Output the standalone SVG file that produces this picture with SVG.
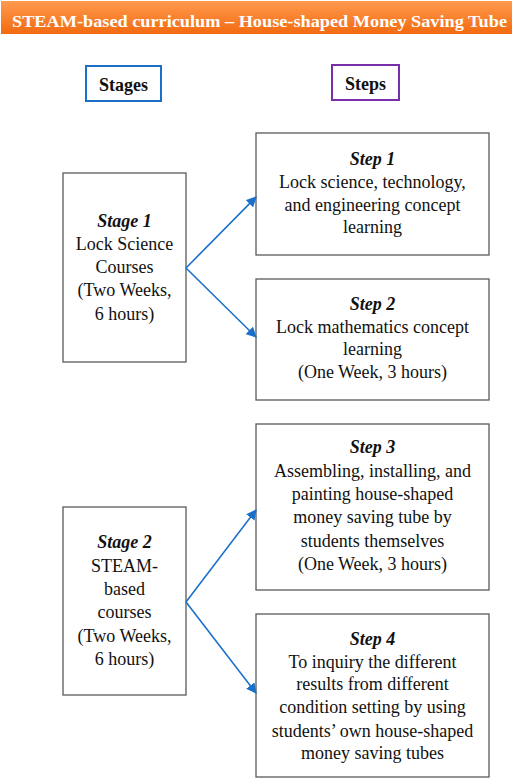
<svg xmlns="http://www.w3.org/2000/svg" width="526" height="782" viewBox="0 0 526 782">
<style>
.box{fill:#fff;stroke:#5a5a5a;stroke-width:1.3}
text{font-family:"Liberation Serif","Times New Roman",serif;font-size:18px;fill:#111;text-anchor:middle}
.b{font-weight:bold}
.bi{font-weight:bold;font-style:italic}
.conn{stroke:#1a6fc9;stroke-width:1.6;fill:none;marker-end:url(#ah)}
</style>
<defs>
<linearGradient id="og" x1="0" y1="0" x2="0" y2="1">
<stop offset="0" stop-color="#ff9a4e"/>
<stop offset="1" stop-color="#f26a10"/>
</linearGradient>
<marker id="ah" viewBox="0 0 10 10" refX="9" refY="5" markerWidth="6.5" markerHeight="6.5" orient="auto" markerUnits="strokeWidth">
<path d="M0,0 L10,5 L0,10 z" fill="#1a6fc9"/>
</marker>
</defs>
<rect width="526" height="782" fill="#fff"/>
<g id="title">
<rect x="1" y="1" width="511" height="33" fill="url(#og)"/>
<text x="259.5" y="27" class="b" style="fill:#fff;font-size:17.6px" textLength="495" lengthAdjust="spacingAndGlyphs">STEAM-based curriculum – House-shaped Money Saving Tube</text>
</g>
<g id="stages">
<rect x="86" y="66" width="75" height="35" fill="#fff" stroke="#1a6fc9" stroke-width="2"/>
<text x="123.5" y="91" class="b">Stages</text>
</g>
<g id="steps">
<rect x="332" y="65" width="67" height="35" fill="#fff" stroke="#7a2fa8" stroke-width="2"/>
<text x="365.5" y="90" class="b">Steps</text>
</g>
<g id="stage1">
<rect class="box" x="63" y="173" width="123" height="189"/>
<text x="124.5" y="227" class="bi">Stage 1</text>
<text x="124.5" y="250">Lock Science</text>
<text x="124.5" y="273">Courses</text>
<text x="124.5" y="296">(Two Weeks,</text>
<text x="124.5" y="320">6 hours)</text>
</g>
<g id="stage2">
<rect class="box" x="63" y="507" width="123" height="188"/>
<text x="124.5" y="548" class="bi">Stage 2</text>
<text x="124.5" y="572">STEAM-</text>
<text x="124.5" y="595">based</text>
<text x="124.5" y="618">courses</text>
<text x="124.5" y="642">(Two Weeks,</text>
<text x="124.5" y="665">6 hours)</text>
</g>
<g id="step1">
<rect class="box" x="256" y="133" width="233" height="122"/>
<text x="372.5" y="165" class="bi">Step 1</text>
<text x="372.5" y="188">Lock science, technology,</text>
<text x="372.5" y="211">and engineering concept</text>
<text x="372.5" y="233">learning</text>
</g>
<g id="step2">
<rect class="box" x="256" y="279" width="233" height="121"/>
<text x="372.5" y="310" class="bi">Step 2</text>
<text x="372.5" y="333">Lock mathematics concept</text>
<text x="372.5" y="355">learning</text>
<text x="372.5" y="378">(One Week, 3 hours)</text>
</g>
<g id="step3">
<rect class="box" x="256" y="424" width="233" height="166"/>
<text x="372.5" y="453" class="bi">Step 3</text>
<text x="372.5" y="477">Assembling, installing, and</text>
<text x="372.5" y="500">painting house-shaped</text>
<text x="372.5" y="523">money saving tube by</text>
<text x="372.5" y="547">students themselves</text>
<text x="372.5" y="570">(One Week, 3 hours)</text>
</g>
<g id="step4">
<rect class="box" x="256" y="614" width="233" height="163"/>
<text x="372.5" y="645" class="bi">Step 4</text>
<text x="372.5" y="668">To inquiry the different</text>
<text x="372.5" y="690">results from different</text>
<text x="372.5" y="713">condition setting by using</text>
<text x="372.5" y="737">students’ own house-shaped</text>
<text x="372.5" y="759">money saving tubes</text>
</g>
<g id="connectors">
<path class="conn" d="M186,268 L256,197"/>
<path class="conn" d="M186,268 L256,337"/>
<path class="conn" d="M186,602 L256,510"/>
<path class="conn" d="M186,602 L256,693"/>
</g>
</svg>
